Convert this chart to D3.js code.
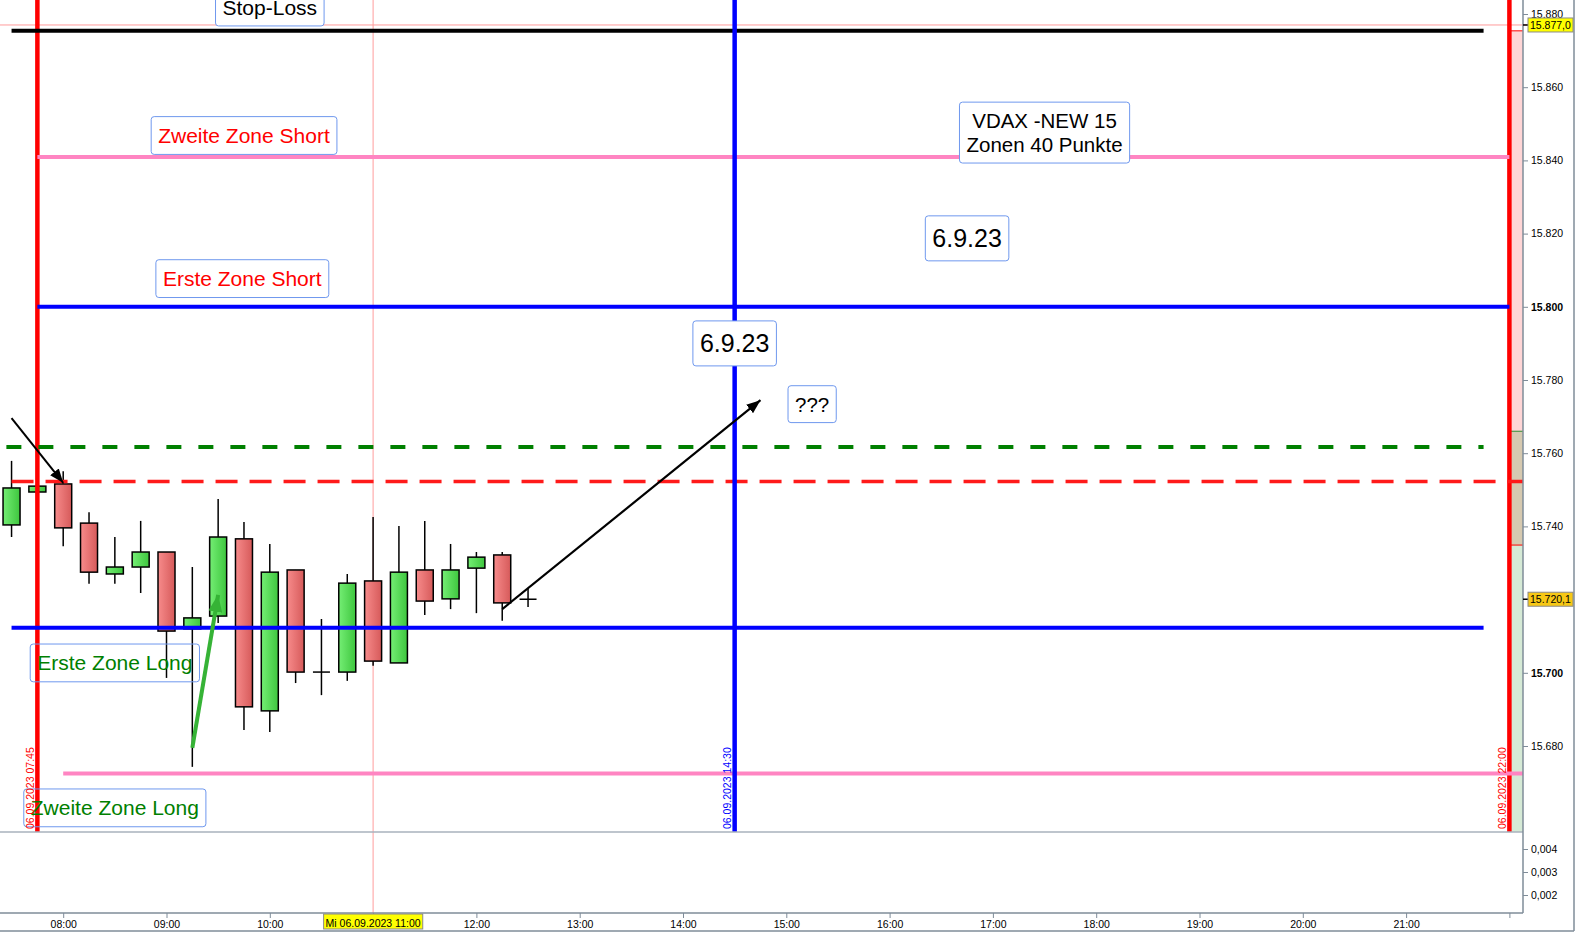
<!DOCTYPE html>
<html lang="de">
<head>
<meta charset="UTF-8">
<title>DAX 15 Min – 06.09.2023</title>
<script src="https://d3js.org/d3.v7.min.js"></script>
<style>
  body { margin: 0; background: #fff; }
  svg { display: block; font-family: "Liberation Sans", Arial, sans-serif; }
  .axis text { font-size: 10.5px; fill: #000; }
  .axis line { stroke: #7f8c99; }
  .axis path { display: none; }
</style>
</head>
<body>
<svg id="chart" width="1575" height="932"></svg>
<script>
// Kerzen 15 Min
const times  = ["07:30","07:45","08:00","08:15","08:30","08:45","09:00","09:15","09:30","09:45","10:00",
                "10:15","10:30","10:45","11:00","11:15","11:30","11:45","12:00","12:15","12:30"];
const opens  = [15740.4,15749.4,15751.6,15740.9,15727.0,15728.9,15733.0,15712.0,15715.5,15736.6,15689.6,
                15728.1,15700.2,15700.2,15725.1,15702.7,15728.1,15720.2,15728.6,15732.2,15720.1];
const highs  = [15757.9,15751.0,15755.1,15743.9,15737.1,15741.5,15733.0,15728.9,15747.5,15741.2,15735.2,
                15728.1,15714.7,15727.0,15742.6,15740.1,15741.5,15735.2,15733.0,15733.0,15723.2];
const lows   = [15737.1,15749.4,15734.6,15724.3,15724.3,15721.8,15698.6,15674.3,15713.6,15684.4,15683.8,
                15697.2,15693.9,15697.8,15701.9,15702.7,15715.8,15717.4,15716.3,15714.2,15718.0];
const closes = [15750.5,15751.0,15739.6,15727.5,15728.9,15733.0,15711.4,15715.0,15737.1,15690.7,15727.5,
                15700.2,15700.2,15724.5,15703.2,15727.5,15719.6,15728.1,15731.6,15719.1,15720.1];

// horizontale Linien
const levelPrices = [15875.4, 15840.9, 15800.0, 15761.7, 15752.3, 15712.3, 15672.5];
const levelFrom   = ["07:30","07:45","07:45","07:27","07:30","07:30","08:00"];
const levelTo     = ["21:45","22:00","22:00","21:45","22:08","21:45","22:08"];

// vertikale Linien
const markTimes  = ["07:45","14:30","22:00"];
const markLabels = ["06.09.2023 07:45","06.09.2023 14:30","06.09.2023 22:00"];

// Textfelder
const noteTexts  = ["Stop-Loss","Zweite Zone Short","Erste Zone Short","VDAX -NEW 15\nZonen 40 Punkte",
                    "6.9.23","6.9.23","???","Erste Zone Long","Zweite Zone Long"];
const noteTimes  = ["10:00","09:45","09:44","17:30","16:45","14:30","15:15","08:30","08:30"];
const notePrices = [15881.9,15846.8,15807.7,15847.6,15818.7,15790.0,15773.4,15702.7,15663.1];

// Pfeile
const arrowFrom = [["07:30",15769.6],["09:15",15679.5],["12:15",15717.4]];
const arrowTo   = [["08:00",15751.9],["09:30",15721.3],["14:45",15774.5]];

// Preisbereich rechts
const bandEdges = [15875.4, 15766.0, 15734.9];

// Achsen
const priceTicks = [15880,15860,15840,15820,15800,15780,15760,15740,15700,15680];
const boldTicks  = [15800,15700];
const indTicks   = [0.004,0.003,0.002];
const hourTicks  = ["08:00","09:00","10:00","11:00","12:00","13:00","14:00","15:00","16:00","17:00",
                    "18:00","19:00","20:00","21:00","22:00"];
const crossTime = "11:00", crossPrice = 15877.0, lastPrice = 15720.1;

const parseT = d3.timeParse("%H:%M");
const plotRight = 1523, mainBottom = 832, axisY = 913;

const x = d3.scaleTime().domain([parseT("08:00"), parseT("22:00")]).range([63.2, 1509.4]);
const y = d3.scaleLinear().domain([15880, 15680]).range([14, 746]);
const yInd = d3.scaleLinear().domain([0.004, 0.002]).range([849, 895]);
const de = d3.formatLocale({decimal: ",", thousands: ".", grouping: [3], currency: ["", " €"]});

const svg = d3.select("#chart");
const defs = svg.append("defs");

function grad(id, c1, c2) {
  const g = defs.append("linearGradient").attr("id", id).attr("x1", "0%").attr("x2", "100%");
  g.append("stop").attr("offset", "0%").attr("stop-color", c1);
  g.append("stop").attr("offset", "100%").attr("stop-color", c2);
}
grad("gUp", "#74ee74", "#3ec63e");
grad("gDown", "#f78b8b", "#d65a5a");

function marker(id, color, len, wid) {
  defs.append("marker").attr("id", id).attr("markerUnits", "userSpaceOnUse")
    .attr("markerWidth", len).attr("markerHeight", wid)
    .attr("refX", len).attr("refY", wid / 2).attr("orient", "auto")
    .append("path").attr("d", `M0,0L${len},${wid / 2}L0,${wid}Z`).attr("fill", color);
}
marker("mBlack", "#000", 14, 11);
marker("mGreen", "#36b336", 17, 14);

defs.append("clipPath").attr("id", "clipMain")
  .append("rect").attr("x", 0).attr("y", 0).attr("width", plotRight).attr("height", mainBottom);

// Preisbereich-Band rechts
const bandColors = ["#ffd6d6", "#d6c9b0", "#d6ead6"];
const bandLines = ["#ff0000", "#2e8b2e", "#ff0000"];
const xBand = x(parseT("22:00"));
bandEdges.forEach((p, i) => {
  const y0 = y(p), y1 = i < bandEdges.length - 1 ? y(bandEdges[i + 1]) : mainBottom;
  svg.append("rect").attr("x", xBand).attr("y", y0).attr("width", plotRight - xBand).attr("height", y1 - y0)
    .attr("fill", bandColors[i]);
  svg.append("line").attr("x1", xBand).attr("x2", plotRight).attr("y1", y0).attr("y2", y0)
    .attr("stroke", bandLines[i]).attr("stroke-width", 1);
});

// Fadenkreuz
svg.append("line").attr("x1", 0).attr("x2", plotRight + 5).attr("y1", y(crossPrice)).attr("y2", y(crossPrice))
  .attr("stroke", "#ff9c9c").attr("stroke-width", 1);
svg.append("line").attr("x1", x(parseT(crossTime))).attr("x2", x(parseT(crossTime)))
  .attr("y1", 0).attr("y2", axisY).attr("stroke", "#ff9c9c").attr("stroke-width", 1);

const main = svg.append("g").attr("clip-path", "url(#clipMain)");

// Kerzen
const candles = times.map((t, i) => ({t: parseT(t), o: opens[i], h: highs[i], l: lows[i], c: closes[i]}));
const bodyW = 17;
main.selectAll(".wick").data(candles).join("line").attr("class", "wick")
  .attr("x1", d => x(d.t)).attr("x2", d => x(d.t))
  .attr("y1", d => y(d.h)).attr("y2", d => y(d.l))
  .attr("stroke", "#000").attr("stroke-width", 1.5);
main.selectAll(".body").data(candles.filter(d => Math.abs(d.o - d.c) >= 0.5)).join("rect").attr("class", "body")
  .attr("x", d => x(d.t) - bodyW / 2).attr("width", bodyW)
  .attr("y", d => y(Math.max(d.o, d.c))).attr("height", d => Math.abs(y(d.o) - y(d.c)))
  .attr("fill", d => d.c > d.o ? "url(#gUp)" : "url(#gDown)")
  .attr("stroke", "#000").attr("stroke-width", 1.5);
main.selectAll(".doji").data(candles.filter(d => Math.abs(d.o - d.c) < 0.5)).join("line").attr("class", "doji")
  .attr("x1", d => x(d.t) - bodyW / 2).attr("x2", d => x(d.t) + bodyW / 2)
  .attr("y1", d => y(d.c)).attr("y2", d => y(d.c))
  .attr("stroke", "#000").attr("stroke-width", 1.5);

// vertikale Linien
const markColors = ["#ff0000", "#0000ff", "#ff0000"];
function vLine(i) {
  const xv = x(parseT(markTimes[i]));
  main.append("line").attr("x1", xv).attr("x2", xv).attr("y1", 0).attr("y2", mainBottom)
    .attr("stroke", markColors[i]).attr("stroke-width", 4.5);
}
vLine(0); vLine(2);

// horizontale Linien
const levelStyle = [
  {c: "#000000", w: 4},
  {c: "#ff85c2", w: 4},
  {c: "#0000ff", w: 4},
  {c: "#008000", w: 4, dash: "15 17"},
  {c: "#ff1a1a", w: 3.5, dash: "22 12"},
  {c: "#0000ff", w: 4},
  {c: "#ff85c2", w: 4}
];
levelPrices.forEach((p, i) => {
  main.append("line")
    .attr("x1", x(parseT(levelFrom[i]))).attr("x2", x(parseT(levelTo[i])))
    .attr("y1", y(p)).attr("y2", y(p))
    .attr("stroke", levelStyle[i].c).attr("stroke-width", levelStyle[i].w)
    .attr("stroke-dasharray", levelStyle[i].dash || null);
});

// Textfelder
const noteStyle = [
  {fs: 21, c: "#000"}, {fs: 21, c: "#ff0000"}, {fs: 21, c: "#ff0000"}, {fs: 20.5, c: "#000"},
  {fs: 25, c: "#000"}, {fs: 25, c: "#000"}, {fs: 20.5, c: "#000"},
  {fs: 21, c: "#008000", open: true}, {fs: 21, c: "#008000", open: true}
];
noteTexts.forEach((txt, i) => {
  const st = noteStyle[i];
  const cx = x(parseT(noteTimes[i])), cy = y(notePrices[i]);
  const lines = txt.split("\n"), lh = 24;
  const h = (lines.length - 1) * lh + st.fs * 1.8;
  const g = svg.append("g");
  const rect = g.append("rect");
  const text = g.append("text").attr("text-anchor", "middle")
    .style("font-size", st.fs + "px").attr("fill", st.c);
  lines.forEach((ln, k) => {
    text.append("tspan").attr("x", cx)
      .attr("y", cy + (k - (lines.length - 1) / 2) * lh + st.fs * 0.36).text(ln);
  });
  const bb = text.node().getBBox();
  rect.attr("x", bb.x - 7).attr("width", bb.width + 14)
    .attr("y", cy - h / 2).attr("height", h).attr("rx", 3)
    .attr("fill", st.open ? "none" : "#fff").attr("stroke", "#6f98ee").attr("stroke-width", 1);
});

vLine(1);

// Datumsbeschriftungen
markTimes.forEach((t, i) => {
  const xv = x(parseT(t)) - 3.5;
  svg.append("text").attr("transform", `translate(${xv},${mainBottom - 3}) rotate(-90)`)
    .style("font-size", "10.5px").attr("fill", markColors[i]).text(markLabels[i]);
});

// Pfeile
const arrowStyle = [{c: "#000", w: 2, m: "mBlack"}, {c: "#36b336", w: 4, m: "mGreen"}, {c: "#000", w: 2.2, m: "mBlack"}];
arrowFrom.forEach((a, i) => {
  const b = arrowTo[i];
  svg.append("line")
    .attr("x1", x(parseT(a[0]))).attr("y1", y(a[1]))
    .attr("x2", x(parseT(b[0]))).attr("y2", y(b[1]))
    .attr("stroke", arrowStyle[i].c).attr("stroke-width", arrowStyle[i].w)
    .attr("marker-end", `url(#${arrowStyle[i].m})`);
});

// Rahmen und Achsenlinien
svg.append("line").attr("x1", 0).attr("x2", plotRight).attr("y1", mainBottom).attr("y2", mainBottom)
  .attr("stroke", "#a8b2bc").attr("stroke-width", 1.5);
svg.append("line").attr("x1", 0).attr("x2", plotRight).attr("y1", axisY).attr("y2", axisY)
  .attr("stroke", "#7f8c99").attr("stroke-width", 1.5);
svg.append("line").attr("x1", plotRight).attr("x2", plotRight).attr("y1", 0).attr("y2", axisY)
  .attr("stroke", "#7f8c99").attr("stroke-width", 1.5);
svg.append("line").attr("x1", 1574).attr("x2", 1574).attr("y1", 0).attr("y2", 931)
  .attr("stroke", "#7f8c99").attr("stroke-width", 1.5);
svg.append("line").attr("x1", 0).attr("x2", 1574).attr("y1", 931).attr("y2", 931)
  .attr("stroke", "#7f8c99").attr("stroke-width", 1.5);

// rechte Preisachse
const yAxis = svg.append("g").attr("class", "axis").attr("transform", `translate(${plotRight},0)`)
  .call(d3.axisRight(y).tickValues(priceTicks).tickSize(5).tickPadding(3).tickFormat(de.format(",.0f")));
yAxis.selectAll("text").style("font-weight", d => boldTicks.includes(d) ? "bold" : null);

svg.append("g").attr("class", "axis").attr("transform", `translate(${plotRight},0)`)
  .call(d3.axisRight(yInd).tickValues(indTicks).tickSize(5).tickPadding(3).tickFormat(de.format(",.3f")));

// Zeitachse
svg.append("g").attr("class", "axis").attr("transform", `translate(0,${axisY})`)
  .call(d3.axisBottom(x).tickValues(hourTicks.map(parseT)).tickSize(5).tickPadding(3)
    .tickFormat(d => {
      const s = d3.timeFormat("%H:%M")(d);
      return (s === crossTime || s === "22:00") ? "" : s;
    }));

// Preis-/Zeit-Labels
function tag(xl, yc, txt, fill) {
  const g = svg.append("g");
  const r = g.append("rect");
  const t = g.append("text").attr("x", xl + 2).attr("y", yc + 4).style("font-size", "10.5px").text(txt);
  const bb = t.node().getBBox();
  r.attr("x", xl).attr("y", yc - 7).attr("width", bb.width + 4).attr("height", 14)
    .attr("fill", fill).attr("stroke", "#8a8a8a").attr("stroke-width", 1);
}
[[crossPrice], [lastPrice]].forEach(([p]) => {
  svg.append("line").attr("x1", plotRight).attr("x2", plotRight + 5).attr("y1", y(p)).attr("y2", y(p))
    .attr("stroke", "#000").attr("stroke-width", 1.5);
});
tag(plotRight + 5, y(crossPrice), de.format(",.1f")(crossPrice), "#ffff00");
tag(plotRight + 5, y(lastPrice), de.format(",.1f")(lastPrice), "#f7c815");

{
  const g = svg.append("g");
  const r = g.append("rect");
  const t = g.append("text").attr("x", x(parseT(crossTime))).attr("y", axisY + 14)
    .attr("text-anchor", "middle").style("font-size", "10.5px").text("Mi 06.09.2023 " + crossTime);
  const bb = t.node().getBBox();
  r.attr("x", bb.x - 2).attr("y", axisY + 1).attr("width", bb.width + 4).attr("height", 15)
    .attr("fill", "#ffff00").attr("stroke", "#8a8a8a").attr("stroke-width", 1);
}
</script>
</body>
</html>
